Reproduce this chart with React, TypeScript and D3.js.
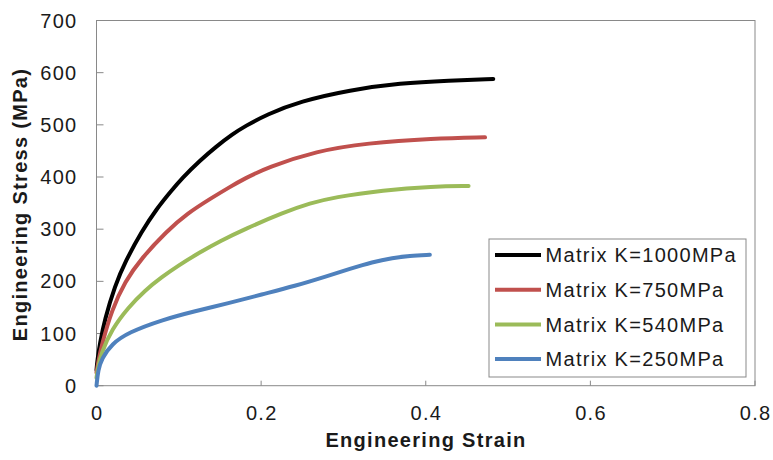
import React from "react";
import * as d3 from "d3";

// Engineering stress–strain curves for four matrix strengths
const seriesNames = [
  "Matrix K=1000MPa",
  "Matrix K=750MPa",
  "Matrix K=540MPa",
  "Matrix K=250MPa",
];
const seriesColors = ["#000000", "#C0504D", "#9BBB59", "#4F81BD"];

// [strain, stress (MPa)]
const k1000: [number, number][] = [
  [0, 30], [0.001, 48], [0.004, 80], [0.01, 127], [0.0225, 192],
  [0.035, 238], [0.055, 296], [0.073, 339], [0.09, 372], [0.104, 398],
  [0.126, 432], [0.145, 458], [0.166, 483], [0.18, 497], [0.207, 520],
  [0.247, 545], [0.308, 567], [0.369, 580], [0.429, 585], [0.482, 588],
];
const k750: [number, number][] = [
  [0, 25], [0.002, 45], [0.0063, 78], [0.0185, 145], [0.0346, 200],
  [0.055, 245], [0.0853, 296], [0.11, 330], [0.14, 360], [0.162, 381],
  [0.18, 397], [0.207, 418], [0.2675, 450], [0.328, 465], [0.409, 474],
  [0.472, 476],
];
const k540: [number, number][] = [
  [0, 15], [0.002, 38], [0.0063, 64], [0.0185, 108], [0.0386, 150],
  [0.059, 183], [0.0792, 208], [0.099, 230], [0.126, 256], [0.15, 277],
  [0.18, 300], [0.227, 332], [0.26, 350], [0.288, 361], [0.348, 375],
  [0.409, 382], [0.452, 383],
];
const k250: [number, number][] = [
  [0, 0], [0.002, 30], [0.0063, 52], [0.0185, 80], [0.0386, 102],
  [0.0792, 126], [0.12, 143], [0.16, 158], [0.2007, 175], [0.241, 191],
  [0.28, 210], [0.308, 224], [0.335, 237], [0.36, 245], [0.38, 249],
  [0.405, 251],
];
const seriesData = [k1000, k750, k540, k250];

const xTicks = [0, 0.2, 0.4, 0.6, 0.8];
const yTicks = [0, 100, 200, 300, 400, 500, 600, 700];
const xTitle = "Engineering Strain";
const yTitle = "Engineering Stress (MPa)";

const W = 773;
const H = 460;
const plot = { left: 96.5, right: 755, top: 20.5, bottom: 385.7 };
const font = "'Liberation Sans', Arial, sans-serif";
const axisColor = "#898989";
const textColor = "#1a1a1a";
const fs = 20;
const ls = 1.3;

export default function App() {
  const x = d3.scaleLinear().domain([0, 0.8]).range([plot.left, plot.right]);
  const y = d3.scaleLinear().domain([0, 700]).range([plot.bottom, plot.top]);
  const line = d3
    .line<[number, number]>()
    .x((d) => x(d[0]))
    .y((d) => y(d[1]))
    .curve(d3.curveBasis);

  const legend = { x: 489, y: 239, w: 257, h: 138, row0: 255, step: 34.7 };

  return (
    <svg
      width={W}
      height={H}
      style={{ position: "absolute", left: 0, top: 0, background: "#fff" }}
      fontFamily={font}
      letterSpacing={ls}
    >
      {/* plot frame */}
      <rect
        x={plot.left}
        y={plot.top}
        width={plot.right - plot.left}
        height={plot.bottom - plot.top}
        fill="none"
        stroke={axisColor}
        strokeWidth={1}
      />
      {/* y ticks and labels */}
      {yTicks.map((t) => (
        <g key={"y" + t}>
          <line
            x1={plot.left}
            x2={plot.left + 7}
            y1={y(t)}
            y2={y(t)}
            stroke={axisColor}
          />
          <text
            x={77.5}
            y={y(t)}
            dy="0.35em"
            textAnchor="end"
            fontSize={fs}
            fill={textColor}
          >
            {t}
          </text>
        </g>
      ))}
      {/* x ticks and labels */}
      {xTicks.map((t) => (
        <g key={"x" + t}>
          <line
            x1={x(t)}
            x2={x(t)}
            y1={plot.bottom}
            y2={plot.bottom - 5}
            stroke={axisColor}
          />
          <text
            x={x(t) + ls / 2}
            y={420}
            textAnchor="middle"
            fontSize={fs}
            fill={textColor}
          >
            {t === 0 ? "0" : String(t)}
          </text>
        </g>
      ))}
      {/* axis titles */}
      <text
        x={426}
        y={447}
        textAnchor="middle"
        fontSize={fs}
        fontWeight="bold"
        fill={textColor}
      >
        {xTitle}
      </text>
      <text
        transform={`translate(27, 204.5) rotate(-90)`}
        textAnchor="middle"
        fontSize={fs}
        fontWeight="bold"
        fill={textColor}
      >
        {yTitle}
      </text>
      {/* curves */}
      {seriesData.map((d, i) => (
        <path
          key={"s" + i}
          d={line(d) || ""}
          fill="none"
          stroke={seriesColors[i]}
          strokeWidth={4}
          strokeLinecap="round"
          strokeLinejoin="round"
        />
      ))}
      {/* legend */}
      <rect
        x={legend.x}
        y={legend.y}
        width={legend.w}
        height={legend.h}
        fill="#fff"
        stroke={axisColor}
        strokeWidth={1}
      />
      {seriesNames.map((name, i) => {
        const cy = legend.row0 + i * legend.step;
        return (
          <g key={"l" + i}>
            <line
              x1={495}
              x2={541}
              y1={cy}
              y2={cy}
              stroke={seriesColors[i]}
              strokeWidth={4}
            />
            <text x={545.5} y={cy} dy="0.36em" fontSize={fs} fill={textColor}>
              {name}
            </text>
          </g>
        );
      })}
    </svg>
  );
}
